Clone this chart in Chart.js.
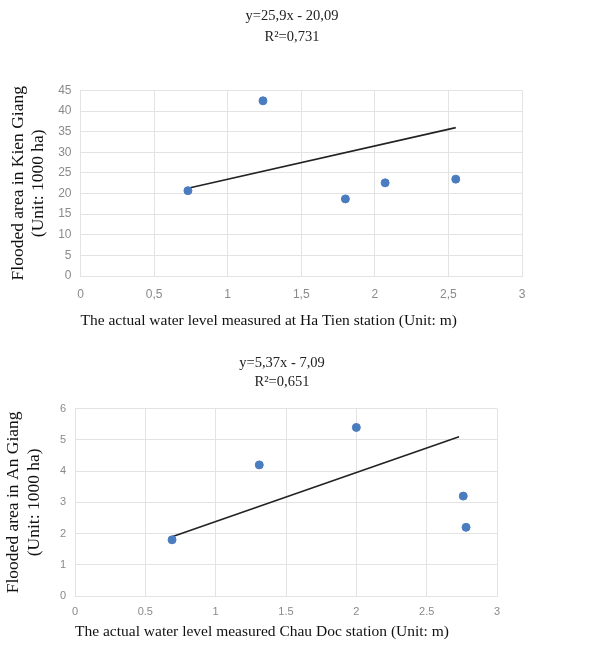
<!DOCTYPE html>
<html>
<head>
<meta charset="utf-8">
<script src="https://cdn.jsdelivr.net/npm/chart.js@4.4.1/dist/chart.umd.min.js"></script>
<style>
  html, body { margin: 0; padding: 0; background: #fff; }
  .box { position: absolute; left: 0; width: 591px; }
  #top { top: 0; height: 330px; }
  #bottom { top: 330px; height: 315px; }
</style>
</head>
<body>
<div class="box" id="top"><canvas id="kienChart"></canvas></div>
<div class="box" id="bottom"><canvas id="anChart"></canvas></div>
<script>
// Kien Giang vs Ha Tien
const haTienLevel = [0.73, 1.24, 1.80, 2.07, 2.55];
const kienGiangArea = [20.7, 42.5, 18.7, 22.6, 23.5];
const kienTrendX = [0.73, 2.55];
const kienTrendY = [21.3, 36.0];
const kienXTicks = ['0', '0,5', '1', '1,5', '2', '2,5', '3'];
const kienYTicks = ['0', '5', '10', '15', '20', '25', '30', '35', '40', '45'];

// An Giang vs Chau Doc
const chauDocLevel = [0.69, 1.31, 2.00, 2.76, 2.78];
const anGiangArea = [1.8, 4.2, 5.4, 3.2, 2.2];
const anTrendX = [0.69, 2.73];
const anTrendY = [1.9, 5.1];
const anXTicks = ['0', '0.5', '1', '1.5', '2', '2.5', '3'];
const anYTicks = ['0', '1', '2', '3', '4', '5', '6'];

const serif = "'Liberation Serif', 'DejaVu Serif', serif";
const sans = "'Liberation Sans', 'Open Sans', sans-serif";
const dotColor = '#4a7cc0';
const gridColor = '#e3e3e3';

function pts(xs, ys) {
  return xs.map((x, i) => ({ x: x, y: ys[i] }));
}

function makeChart(id, cfg) {
  const ctx = document.getElementById(id).getContext('2d');
  return new Chart(ctx, {
    type: 'scatter',
    data: {
      datasets: [
        {
          data: pts(cfg.x, cfg.y),
          backgroundColor: dotColor,
          borderColor: dotColor,
          pointRadius: 4,
          pointHoverRadius: 4
        },
        {
          type: 'line',
          data: pts(cfg.tx, cfg.ty),
          borderColor: '#222',
          borderWidth: 1.6,
          pointRadius: 0,
          fill: false
        }
      ]
    },
    options: {
      responsive: true,
      maintainAspectRatio: false,
      animation: false,
      layout: { padding: { left: 0, right: cfg.padRight, top: 0, bottom: 0 } },
      plugins: {
        legend: { display: false },
        tooltip: { enabled: false },
        title: {
          display: true,
          text: cfg.title,
          color: '#222',
          font: { family: serif, size: cfg.titleSize, lineHeight: cfg.titleLine, weight: 'normal' },
          padding: { top: cfg.titleTop, bottom: cfg.titleBottom }
        }
      },
      scales: {
        x: {
          type: 'linear',
          min: 0,
          max: 3,
          afterFit: (s) => { s.height = cfg.xHeight; },
          grid: { color: gridColor, drawTicks: false },
          border: { color: gridColor },
          ticks: {
            stepSize: 0.5,
            padding: cfg.xTickPad,
            color: '#8a8a8a',
            font: { family: sans, size: cfg.tickSize },
            callback: (v) => cfg.xTicks[Math.round(v / 0.5)]
          },
          title: {
            display: true,
            text: cfg.xTitle,
            align: 'start',
            color: '#111',
            font: { family: serif, size: cfg.xTitleSize, lineHeight: 1.2 },
            padding: { top: 0, bottom: cfg.xTitleBottom }
          }
        },
        y: {
          min: 0,
          max: cfg.yMax,
          afterFit: (s) => { s.width = cfg.yWidth; },
          grid: { color: gridColor, drawTicks: false },
          border: { color: gridColor },
          ticks: {
            stepSize: cfg.yStep,
            padding: 9,
            color: '#8a8a8a',
            font: { family: sans, size: cfg.tickSize },
            callback: (v) => cfg.yTicks[Math.round(v / cfg.yStep)]
          },
          title: {
            display: true,
            text: cfg.yTitle,
            color: '#111',
            font: { family: serif, size: cfg.yTitleSize, lineHeight: cfg.yTitleLine },
            padding: { top: cfg.yTitlePad, bottom: 0 }
          }
        },
        y2: {
          position: 'right',
          display: true,
          afterFit: (s) => { s.width = cfg.rightWidth; },
          grid: { display: false },
          border: { display: false },
          ticks: { display: false }
        }
      }
    }
  });
}

makeChart('kienChart', {
  x: haTienLevel, y: kienGiangArea, tx: kienTrendX, ty: kienTrendY,
  xTicks: kienXTicks, yTicks: kienYTicks, yMax: 45, yStep: 5,
  title: ['y=25,9x - 20,09', 'R\u00b2=0,731'],
  titleSize: 14.5, titleLine: 1.5, titleTop: 5, titleBottom: 42,
  xTitle: 'The actual water level measured at Ha Tien station (Unit: m)',
  yTitle: ['Flooded area in Kien Giang', '(Unit: 1000 ha)'],
  xTitleSize: 15.5, yTitleSize: 17.5, yTitleLine: 1.15, yTitlePad: 8,
  xHeight: 54, xTickPad: 11, xTitleBottom: 0, tickSize: 12,
  yWidth: 80.5, rightWidth: 62, padRight: 7
});

makeChart('anChart', {
  x: chauDocLevel, y: anGiangArea, tx: anTrendX, ty: anTrendY,
  xTicks: anXTicks, yTicks: anYTicks, yMax: 6, yStep: 1,
  title: ['y=5,37x - 7,09', 'R\u00b2=0,651'],
  titleSize: 14.5, titleLine: 1.3, titleTop: 24, titleBottom: 17,
  xTitle: 'The actual water level measured Chau Doc station (Unit: m)',
  yTitle: ['Flooded area in An Giang', '(Unit: 1000 ha)'],
  xTitleSize: 15.5, yTitleSize: 17.5, yTitleLine: 1.2, yTitlePad: 3,
  xHeight: 49, xTickPad: 9, xTitleBottom: 4, tickSize: 11,
  yWidth: 75, rightWidth: 67, padRight: 27
});
</script>
</body>
</html>
